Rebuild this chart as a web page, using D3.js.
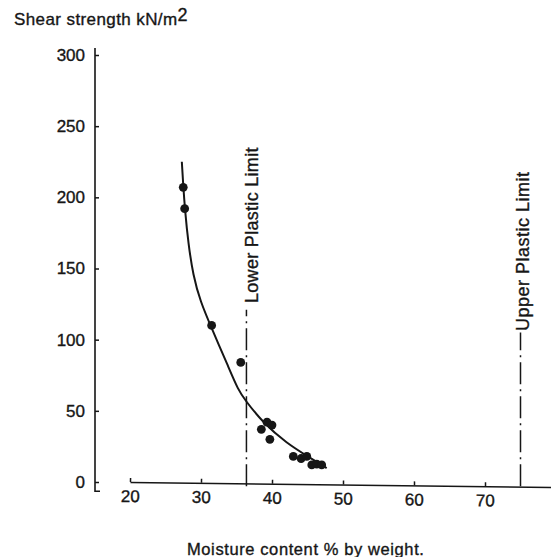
<!DOCTYPE html>
<html>
<head>
<meta charset="utf-8">
<script src="https://cdn.jsdelivr.net/npm/d3@7/dist/d3.min.js"></script>
<style>
  html, body { margin: 0; padding: 0; background: #fff; }
  svg { display: block; }
  text { font-family: "Liberation Sans", Arial, Helvetica, sans-serif; fill: #161616; stroke: #161616; stroke-width: 0.35px; }
</style>
</head>
<body>
<svg id="chart" width="551" height="557"></svg>
<script>
// ---- data ----
const xTicks = [20, 30, 40, 50, 60, 70];
const yTicks = [0, 50, 100, 150, 200, 250, 300];
const pointMoisture = [27.5, 27.7, 31.5, 35.6, 38.5, 39.3, 40.0, 39.7, 43.0, 44.1, 44.9, 45.6, 46.3, 47.0];
const pointStrength = [207, 192, 110, 84, 37, 42, 40, 30, 18, 16.5, 18, 12, 12.5, 12];
const curveMoisture = [27.3, 27.5, 27.75, 28.2, 28.9, 29.9, 31.5, 33.85, 35.25, 36.2, 38.8, 42.1, 45.1, 47.7];
const curveStrength = [225, 208, 191, 168, 145, 127, 108, 81, 64.6, 57.6, 41.2, 27.2, 17.8, 9.8];
const limitNames = ["Lower Plastic Limit", "Upper Plastic Limit"];
const limitMoisture = [36.4, 75.0];
const limitLineTop = [121, 105];
const yTitle = "Shear strength kN/m";
const ySup = "2";
const xTitle = "Moisture content % by weight.";

// ---- scales ----
const svg = d3.select("#chart");
const x = d3.scaleLinear().domain([20, 80]).range([130, 556]);
const y = d3.scaleLinear().domain([0, 300]).range([482, 55]);
const ink = "#161616";

// ---- y axis ----
const yAxis = svg.append("g").attr("transform", "translate(95,0)")
  .call(d3.axisLeft(y).tickValues(yTicks).tickSizeInner(-4).tickSizeOuter(0).tickPadding(10));
yAxis.select(".domain").remove();
yAxis.selectAll(".tick line").attr("stroke", ink).attr("stroke-width", 1.5);
yAxis.selectAll(".tick text").attr("font-size", 17).attr("fill", ink)
  .attr("font-family", "Liberation Sans, Arial, sans-serif");
yAxis.append("path")
  .attr("d", d3.line()([[0, y(305)], [0, y(-6.5)], [5, y(-6.5)]]))
  .attr("fill", "none").attr("stroke", ink).attr("stroke-width", 1.6);

// ---- x axis (slightly slanted, as in the scan) ----
const xAxis = svg.append("g").attr("transform", "translate(0,482) rotate(0.68,130,0)")
  .call(d3.axisBottom(x).tickValues(xTicks).tickSizeInner(-4).tickSizeOuter(0).tickPadding(8));
xAxis.select(".domain").attr("stroke", ink).attr("stroke-width", 1.6);
xAxis.selectAll(".tick line").attr("stroke", ink).attr("stroke-width", 1.5);
xAxis.selectAll(".tick text").attr("font-size", 17).attr("fill", ink)
  .attr("font-family", "Liberation Sans, Arial, sans-serif");

// ---- plastic limit lines ----
limitMoisture.forEach((m, i) => {
  svg.append("path")
    .attr("d", d3.line()([[x(m), y(-3)], [x(m), y(limitLineTop[i])]]))
    .attr("stroke", ink).attr("stroke-width", 1.5)
    .attr("stroke-dasharray", "22,5,2,5").attr("fill", "none");
});
// labels (rotated)
svg.append("text")
  .attr("transform", `translate(${x(limitMoisture[0]) + 12},303) rotate(-90)`)
  .attr("font-size", 18).attr("letter-spacing", 0.3)
  .text(limitNames[0]);
svg.append("text")
  .attr("transform", `translate(${x(limitMoisture[1]) + 8.5},331) rotate(-90)`)
  .attr("font-size", 18).attr("letter-spacing", 0.5)
  .text(limitNames[1]);

// ---- fitted curve ----
const curveData = curveMoisture.map((m, i) => [m, curveStrength[i]]);
svg.append("path")
  .datum(curveData)
  .attr("d", d3.line().x(d => x(d[0])).y(d => y(d[1])).curve(d3.curveBasis))
  .attr("fill", "none").attr("stroke", ink).attr("stroke-width", 2);

// ---- points ----
const pts = pointMoisture.map((m, i) => [m, pointStrength[i]]);
svg.append("g").selectAll("circle").data(pts).join("circle")
  .attr("cx", d => x(d[0])).attr("cy", d => y(d[1])).attr("r", 4.4)
  .attr("fill", ink);

// ---- titles ----
const yt = svg.append("text").attr("x", 14).attr("y", 25)
  .attr("font-size", 17).attr("letter-spacing", 0.4);
yt.append("tspan").text(yTitle);
yt.append("tspan").attr("dy", -4).attr("font-size", 18).text(ySup);

svg.append("text").attr("x", 187).attr("y", 555)
  .attr("font-size", 16.5).attr("letter-spacing", 0.6)
  .text(xTitle);
</script>
</body>
</html>
